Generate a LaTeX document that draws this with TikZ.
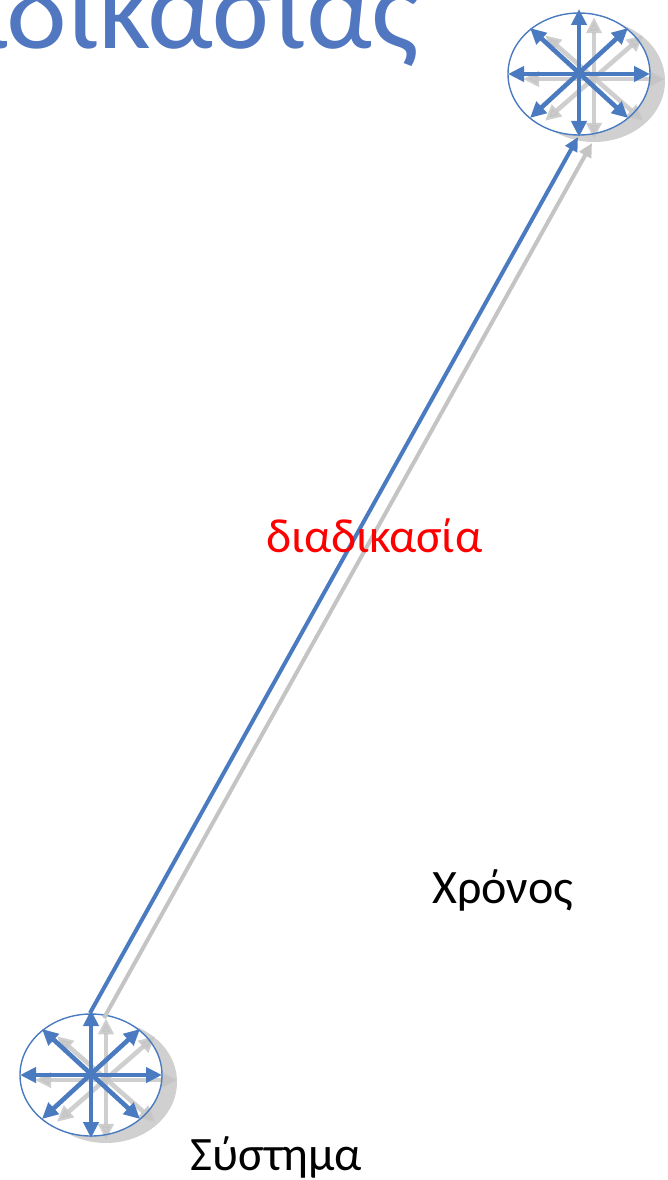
\documentclass[tikz,border=0pt]{standalone}
\usepackage{fontspec}
\setmainfont{Carlito}
\usetikzlibrary{arrows.meta}
\definecolor{ablue}{HTML}{4A7BC0}
\definecolor{tblue}{HTML}{5077BF}
\definecolor{sgray}{HTML}{C4C4C4}
\definecolor{egray}{HTML}{D0D0D0}
\tikzset{
  x=1pt, y=-1pt,
  dbl/.style={line width=4.6pt, arrows={Triangle[length=16pt,width=15pt]-Triangle[length=16pt,width=15pt]}},
  sng/.style={line width=4pt, arrows={-Triangle[length=14pt,width=13pt]}},
  lbl/.style={inner sep=0pt, anchor=base west},
}
\newcommand{\starset}[1]{%
  \draw[dbl,#1] (0,-65) -- (0,63);
  \draw[dbl,#1] (-71,0) -- (71,0);
  \draw[dbl,#1] (-49,-46) -- (49,44);
  \draw[dbl,#1] (-49,44) -- (49,-46);
}
\newcommand{\sysball}[2]{%
  \begin{scope}[shift={(#1,#2)}]
    \fill[egray] (15,7) ellipse [x radius=71, y radius=61];
    \fill[white] (0,0) ellipse [x radius=71, y radius=61];
    \begin{scope}[shift={(15,5)}, yscale=0.95, opacity=0.8]
      \starset{sgray}
    \end{scope}
    \draw[ablue, line width=1.4pt] (0,0) ellipse [x radius=71, y radius=61];
    \starset{ablue}
  \end{scope}}
\begin{document}
\begin{tikzpicture}
\useasboundingbox (0,0) rectangle (667,1180);
\clip (0,0) rectangle (667,1180);
% title (clipped)
\node[inner sep=0pt, anchor=base east, text=tblue, font=\fontsize{116}{116}\selectfont] (title) at (420,49) {διαδικασίας};
% balls
\sysball{91}{1075}
\sysball{579}{74}
\coordinate (s) at (90,1013);
\coordinate (e) at (578,137);
\coordinate (s2) at (104,1018);
\coordinate (e2) at (592,143);
\draw[sng, sgray] (s2) -- (e2);
\draw[sng, ablue] (s) -- (e);
% labels
\node[lbl, text=red, font=\fontsize{48}{48}\selectfont] (proc) at (266,552) {διαδικασία};
\node[lbl, font=\fontsize{48}{48}\selectfont] (time) at (432,903) {Χρόνος};
\node[lbl, font=\fontsize{48}{48}\selectfont] (sys) at (190,1170) {Σύστημα};
\end{tikzpicture}
\end{document}
